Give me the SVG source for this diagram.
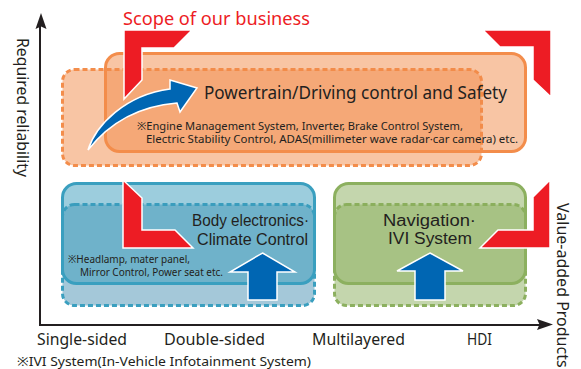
<svg xmlns="http://www.w3.org/2000/svg" width="581" height="369" viewBox="0 0 581 369">
<style>
text{font-family:"Noto Sans","Open Sans","Noto Sans CJK JP",sans-serif;fill:#231f20}
text.tt{font-family:"Liberation Sans","Noto Sans",sans-serif}
.or{fill:#f28c4a;fill-opacity:.5;stroke:#f38d4b;stroke-width:3}
.tl{fill:#3a9cbc;fill-opacity:.5;stroke:#3a9fbf;stroke-width:3}
.tld{fill:#4a92b4;fill-opacity:.5;stroke:#3a9fbf;stroke-width:3}
.gr{fill:#8aae5c;fill-opacity:.5;stroke:#8cb05f;stroke-width:3}
.dash{stroke-dasharray:5 3}
.red{fill:#ed1c24;stroke:#fff;stroke-width:1.5;stroke-linejoin:miter}
.blue{fill:#0066b3;stroke:#fff;stroke-width:1.5;stroke-linejoin:miter}
.axis{stroke:#231f20;stroke-width:2;fill:none}
.head{fill:#231f20}
</style>
<g id="axes">
<line class="axis" x1="40" y1="24" x2="40" y2="325"/>
<line class="axis" x1="39" y1="325" x2="542" y2="325"/>
<path class="head" d="M41,13 L46.5,29 L41,26.5 L35.5,29 Z"/>
<path class="head" d="M553,324.5 L537,319 L539.5,324.5 L537,330 Z"/>
<text transform="translate(17,38) rotate(90)" font-size="16" textLength="139" lengthAdjust="spacingAndGlyphs">Required reliability</text>
<text transform="translate(557,203) rotate(90)" font-size="16">Value-added Products</text>
</g>
<g id="powertrain">
<rect class="or dash" x="62.5" y="69.5" width="419" height="96" rx="12"/>
<rect class="or" x="105.5" y="53.5" width="420" height="98" rx="14"/>
</g>
<g id="body">
<rect class="tld dash" x="62.5" y="204.5" width="252" height="101" rx="12"/>
<rect class="tl" x="62.5" y="183.5" width="252" height="100" rx="14"/>
</g>
<g id="navigation">
<rect class="gr dash" x="334.5" y="204.5" width="191" height="101" rx="12"/>
<rect class="gr" x="334.5" y="183.5" width="191" height="100" rx="14"/>
</g>
<g id="scope">
<path class="red" d="M124,30 L192,30 L174,48 L142,48 L142,80 L124,99 Z"/>
<path class="red" d="M483,30 L551,30 L551,97 L533,80 L533,47 L500,47 Z"/>
<path class="red" d="M123,180 L142,198 L142,230 L175,230 L193,248 L123,248 Z"/>
<path class="red" d="M550,180 L550,248 L480,248 L498,230 L533,230 L533,197 Z"/>
<text x="123" y="25" font-size="18" style="fill:#ed1c24" textLength="187" lengthAdjust="spacingAndGlyphs">Scope of our business</text>
</g>
<g id="connectors">
<path class="blue" d="M88,150 C96,125 125,95 170,89 L170,80 L197,88 L180,112 L177,103 C140,106 110,122 88,150 Z"/>
<path class="blue" d="M262.5,253 L295,272 L277,272 L277,300 L248,300 L248,272 L230,272 Z"/>
<path class="blue" d="M430,253 L463,271 L445,271 L445,300 L415,300 L415,271 L397,271 Z"/>
</g>
<g id="labels">
<text x="204" y="99" font-size="17.5" textLength="303" lengthAdjust="spacingAndGlyphs">Powertrain/Driving control and Safety</text>
<text x="137" y="130" font-size="10.5" textLength="326" lengthAdjust="spacingAndGlyphs">※Engine Management System, Inverter, Brake Control System,</text>
<text x="146" y="142.5" font-size="10.5" textLength="372" lengthAdjust="spacingAndGlyphs">Electric Stability Control, ADAS(millimeter wave radar·car camera) etc.</text>
<text class="tt" x="192" y="226" font-size="16" textLength="117" lengthAdjust="spacingAndGlyphs">Body electronics·</text>
<text class="tt" x="197" y="245" font-size="16" textLength="111" lengthAdjust="spacingAndGlyphs">Climate Control</text>
<text x="68" y="263" font-size="10">※Headlamp, mater panel,</text>
<text x="80" y="276" font-size="10" textLength="143" lengthAdjust="spacingAndGlyphs">Mirror Control, Power seat etc.</text>
<text class="tt" x="383" y="225.5" font-size="15.8" textLength="93" lengthAdjust="spacingAndGlyphs">Navigation·</text>
<text class="tt" x="388" y="244" font-size="15.8" textLength="84" lengthAdjust="spacingAndGlyphs">IVI System</text>
<text x="37" y="345" font-size="16" textLength="90" lengthAdjust="spacingAndGlyphs">Single-sided</text>
<text x="164" y="345" font-size="16" textLength="101" lengthAdjust="spacingAndGlyphs">Double-sided</text>
<text x="312" y="345" font-size="16" textLength="93" lengthAdjust="spacingAndGlyphs">Multilayered</text>
<text x="467" y="345" font-size="16" textLength="25" lengthAdjust="spacingAndGlyphs">HDI</text>
<text x="17" y="366" font-size="13" textLength="294" lengthAdjust="spacingAndGlyphs">※IVI System(In-Vehicle Infotainment System)</text>
</g>
</svg>
